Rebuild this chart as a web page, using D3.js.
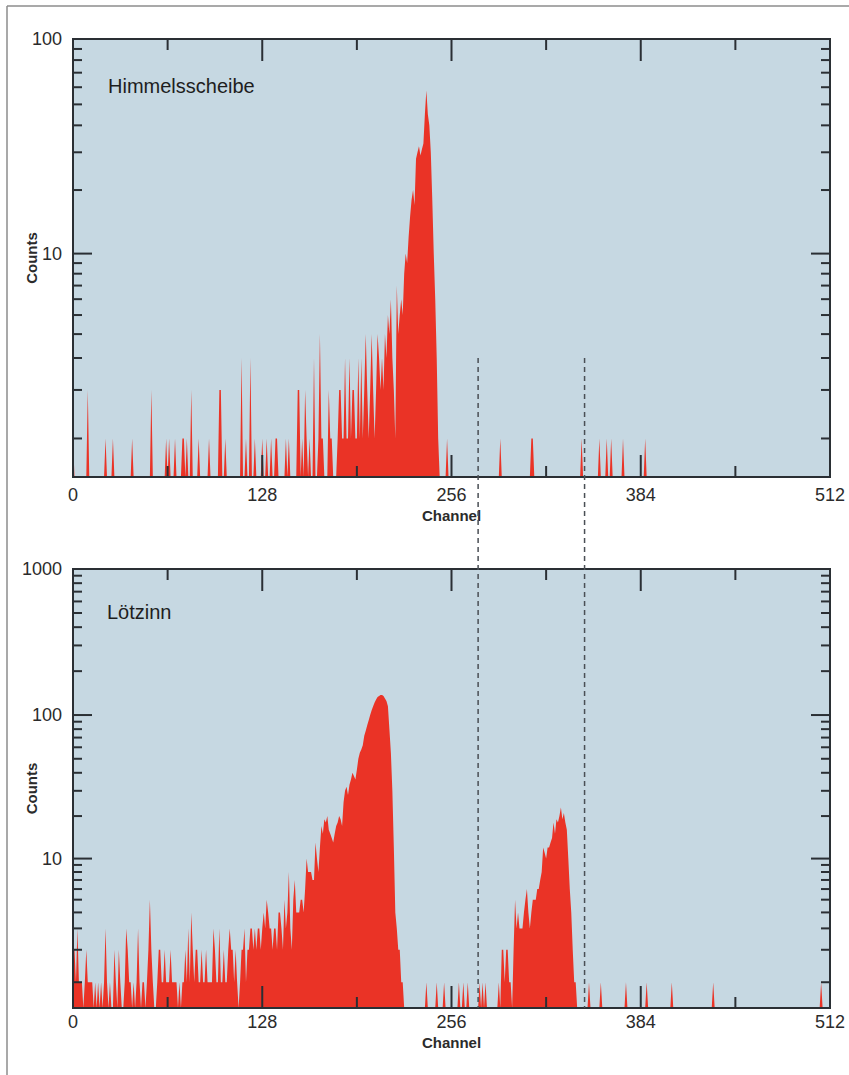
<!DOCTYPE html>
<html>
<head>
<meta charset="utf-8">
<script src="https://cdn.jsdelivr.net/npm/d3@7"></script>
<style>
  html, body { margin: 0; padding: 0; background: #ffffff; }
  svg { display: block; }
  text { font-family: "Liberation Sans", Arial, sans-serif; }
</style>
</head>
<body>
<svg id="chart" width="849" height="1075"></svg>
<script>
// ---- data ---------------------------------------------------------------
const channelTicks = [0, 128, 256, 384, 512];
const channelMinorTicks = [64, 192, 320, 448];
const panelNames = ["Himmelsscheibe", "Lötzinn"];
const countLabelsTop = [10, 100];
const countLabelsBottom = [10, 100, 1000];
const markerChannels = [274, 346];

// counts per channel (512 channels), Himmelsscheibe spectrum
const himmelsscheibeCounts = [
  1,0,0,0,0,0,0,0,0,0,2,0,0,0,0,0,  0,0,0,0,0,0,1,0,0,0,0,1,0,0,0,0,
  0,0,0,0,0,0,0,0,1,0,0,0,0,0,0,0,  0,0,0,0,0,2,0,0,0,0,0,0,0,0,0,1,
  0,1,0,0,0,1,0,0,0,0,1,1,0,1,0,0,  2,0,0,0,0,1,0,0,0,0,0,0,1,0,0,0,
  0,0,0,2,2,0,0,1,0,0,0,0,0,0,0,0,  0,0,3,0,0,1,0,0,3,0,0,1,0,0,0,0,
  1,0,0,1,0,0,1,0,0,1,1,0,0,0,0,0,  1,0,1,0,0,0,0,0,2,2,0,1,0,2,1,0,
  1,0,0,3,0,0,1,4,1,1,0,0,0,2,1,1,  0,0,0,1,2,2,1,1,3,1,1,3,1,2,2,1,
  1,3,1,3,1,2,4,2,1,2,4,2,1,2,4,3,  2,3,2,4,3,5,4,6,3,2,1,7,4,5,6,5,
  8,10,9,12,15,18,20,17,28,30,32,29,31,33,45,58,  45,40,30,18,10,6,3,1,0,0,0,0,0,1,0,0,
  0,0,0,0,0,0,0,0,0,0,0,0,0,0,0,0,  0,0,0,0,0,0,0,0,0,0,0,0,0,0,0,0,
  0,1,0,0,0,0,0,0,0,0,0,0,0,0,0,0,  0,0,0,0,0,0,1,1,0,0,0,0,0,0,0,0,
  0,0,0,0,0,0,0,0,0,0,0,0,0,0,0,0,  0,0,0,0,0,0,0,0,1,0,0,0,0,0,0,0,
  0,0,0,0,1,0,0,0,0,1,0,0,1,0,0,0,  0,0,0,0,1,0,0,0,0,0,0,0,0,0,0,0,
  0,0,0,1,0,0,0,0,0,0,0,0,0,0,0,0,  0,0,0,0,0,0,0,0,0,0,0,0,0,0,0,0,
  0,0,0,0,0,0,0,0,0,0,0,0,0,0,0,0,  0,0,0,0,0,0,0,0,0,0,0,0,0,0,0,0,
  0,0,0,0,0,0,0,0,0,0,0,0,0,0,0,0,  0,0,0,0,0,0,0,0,0,0,0,0,0,0,0,0,
  0,0,0,0,0,0,0,0,0,0,0,0,0,0,0,0,  0,0,0,0,0,0,0,0,0,0,0,0,0,0,0,0
];

// counts per channel (512 channels), Lötzinn spectrum
const loetzinnCounts = [
  2,2,1,3,1,1,1,0,1,2,1,1,1,1,0,1,  0,1,0,1,0,1,3,1,0,1,0,0,2,1,0,2,
  1,0,0,1,3,2,1,1,0,1,0,1,3,1,0,1,  1,0,1,2,5,2,1,0,0,1,2,2,1,1,2,1,
  1,1,2,1,1,1,1,0,1,0,1,1,2,1,3,1,  4,2,1,2,2,1,1,2,1,1,2,1,1,1,1,3,
  2,1,1,3,1,1,2,1,1,2,3,2,2,1,2,1,  0,1,2,2,3,1,2,2,3,3,2,3,2,3,3,2,
  3,4,3,5,4,3,3,2,3,3,2,4,4,3,2,5,  3,4,8,3,2,5,7,4,4,4,5,5,4,6,10,8,
  8,8,7,7,13,10,8,12,17,15,19,18,20,16,15,14,  13,15,17,18,20,19,17,25,30,32,28,33,36,40,38,36,
  42,50,55,58,62,72,78,85,92,100,108,115,122,128,133,135,  137,137,135,130,125,115,80,55,30,12,4,3,2,2,1,1,
  0,0,0,0,0,0,0,0,0,0,0,0,0,0,0,1,  0,0,0,0,0,0,1,0,0,0,0,1,0,0,0,0,
  0,0,0,0,0,1,0,0,1,0,0,1,0,0,0,0,  0,0,0,1,0,1,0,1,0,0,0,0,0,0,0,0,
  1,0,2,2,1,2,2,1,1,0,2,5,3,4,3,3,  3,4,5,6,4,3,4,5,5,5,6,6,7,8,12,11,
  10,12,12,13,14,18,15,19,18,20,23,19,21,18,16,10,  6,4,2,1,1,0,0,0,0,0,0,0,0,1,0,0,
  0,0,0,0,0,1,0,0,0,0,0,0,0,0,0,0,  0,0,0,0,0,0,1,0,0,0,0,0,0,0,0,0,
  0,0,0,0,1,0,0,0,0,0,0,0,0,0,0,0,  0,0,0,0,0,1,0,0,0,0,0,0,0,0,0,0,
  0,0,0,0,0,0,0,0,0,0,0,0,0,0,0,0,  0,1,0,0,0,0,0,0,0,0,0,0,0,0,0,0,
  0,0,0,0,0,0,0,0,0,0,0,0,0,0,0,0,  0,0,0,0,0,0,0,0,0,0,0,0,0,0,0,0,
  0,0,0,0,0,0,0,0,0,0,0,0,0,0,0,0,  0,0,0,0,0,0,0,0,0,0,1,0,0,0,0,0
];

// ---- layout -------------------------------------------------------------
const plotLeft = 73, plotRight = 830;
const panels = [
  { name: panelNames[0], counts: himmelsscheibeCounts, max: 100,  labels: countLabelsTop,
    top: 39,  bottom: 477,  tickLabelGap: 24, titleX: 108, titleY: 93 },
  { name: panelNames[1], counts: loetzinnCounts,       max: 1000, labels: countLabelsBottom,
    top: 569, bottom: 1008, tickLabelGap: 20, titleX: 107, titleY: 619 }
];

const colors = {
  plotBg: "#c6d8e2",
  fill: "#ea3326",
  axis: "#2a2f34",
  text: "#2b2b2b",
  marker: "#4a4f55",
  border: "#8c8c8c"
};

const svg = d3.select("#chart");

// page border (top and left edges)
svg.append("line").attr("x1", 7).attr("y1", 6).attr("x2", 849).attr("y2", 6)
  .attr("stroke", colors.border).attr("stroke-width", 1.5);
svg.append("line").attr("x1", 7).attr("y1", 6).attr("x2", 7).attr("y2", 1075)
  .attr("stroke", colors.border).attr("stroke-width", 1.5);

const x = d3.scaleLinear().domain([0, 512]).range([plotLeft, plotRight]);

panels.forEach(p => {
  // counts axis: log-like (symlog) scale, floor at half a count
  p.y = d3.scaleSymlog().constant(0.5).domain([0.5, p.max]).range([p.bottom, p.top]).clamp(true);
  const g = svg.append("g");

  g.append("rect")
    .attr("x", plotLeft).attr("y", p.top)
    .attr("width", plotRight - plotLeft).attr("height", p.bottom - p.top)
    .attr("fill", colors.plotBg);

  const area = d3.area()
    .x((d, i) => x(i))
    .y0(p.bottom)
    .y1(d => p.y(Math.max(d, 0.5)));
  g.append("path").datum(p.counts)
    .attr("d", area)
    .attr("fill", colors.fill);

  // frame
  g.append("rect")
    .attr("x", plotLeft).attr("y", p.top)
    .attr("width", plotRight - plotLeft).attr("height", p.bottom - p.top)
    .attr("fill", "none").attr("stroke", colors.axis).attr("stroke-width", 2);

  // count ticks: every integer multiple within each decade
  const countTicks = [];
  for (let d = 1; d < p.max; d *= 10) {
    for (let k = 1; k <= 9; k++) countTicks.push({ v: k * d, major: k === 1 && d > 1 });
  }
  countTicks.forEach(t => {
    const yy = p.y(t.v);
    const len = t.major ? 19 : 9;
    g.append("line").attr("x1", plotLeft).attr("x2", plotLeft + len)
      .attr("y1", yy).attr("y2", yy).attr("stroke", colors.axis).attr("stroke-width", 2);
    g.append("line").attr("x1", plotRight).attr("x2", plotRight - len)
      .attr("y1", yy).attr("y2", yy).attr("stroke", colors.axis).attr("stroke-width", 2);
  });

  // channel ticks, top and bottom, pointing inward
  const chTicks = channelTicks.map(v => ({ v, len: 22 }))
    .concat(channelMinorTicks.map(v => ({ v, len: 11 })));
  chTicks.forEach(t => {
    const xx = x(t.v);
    g.append("line").attr("x1", xx).attr("x2", xx)
      .attr("y1", p.top).attr("y2", p.top + t.len)
      .attr("stroke", colors.axis).attr("stroke-width", 2);
    g.append("line").attr("x1", xx).attr("x2", xx)
      .attr("y1", p.bottom).attr("y2", p.bottom - t.len)
      .attr("stroke", colors.axis).attr("stroke-width", 2);
  });

  // count labels
  p.labels.forEach(v => {
    g.append("text")
      .attr("x", 62).attr("y", p.y(v)).attr("dy", "0.35em")
      .attr("text-anchor", "end")
      .attr("font-size", 18).attr("fill", colors.text)
      .text(v);
  });

  // channel labels
  channelTicks.forEach(v => {
    g.append("text")
      .attr("x", x(v)).attr("y", p.bottom + p.tickLabelGap)
      .attr("text-anchor", "middle")
      .attr("font-size", 18).attr("fill", colors.text)
      .text(v);
  });

  g.append("text")
    .attr("x", x(256)).attr("y", p.bottom + p.tickLabelGap + 20)
    .attr("text-anchor", "middle")
    .attr("font-size", 15).attr("font-weight", "bold").attr("fill", colors.text)
    .text("Channel");

  g.append("text")
    .attr("transform", `translate(37,${(p.top + p.bottom) / 2}) rotate(-90)`)
    .attr("text-anchor", "middle")
    .attr("font-size", 15).attr("font-weight", "bold").attr("fill", colors.text)
    .text("Counts");

  g.append("text")
    .attr("x", p.titleX).attr("y", p.titleY)
    .attr("font-size", 20).attr("fill", "#1e1e1e")
    .text(p.name);
});

// dashed marker lines spanning both panels
markerChannels.forEach(c => {
  svg.append("line")
    .attr("x1", x(c)).attr("x2", x(c))
    .attr("y1", panels[0].y(3)).attr("y2", panels[1].bottom)
    .attr("stroke", colors.marker).attr("stroke-width", 1.5)
    .attr("stroke-dasharray", "5,4");
});
</script>
</body>
</html>
